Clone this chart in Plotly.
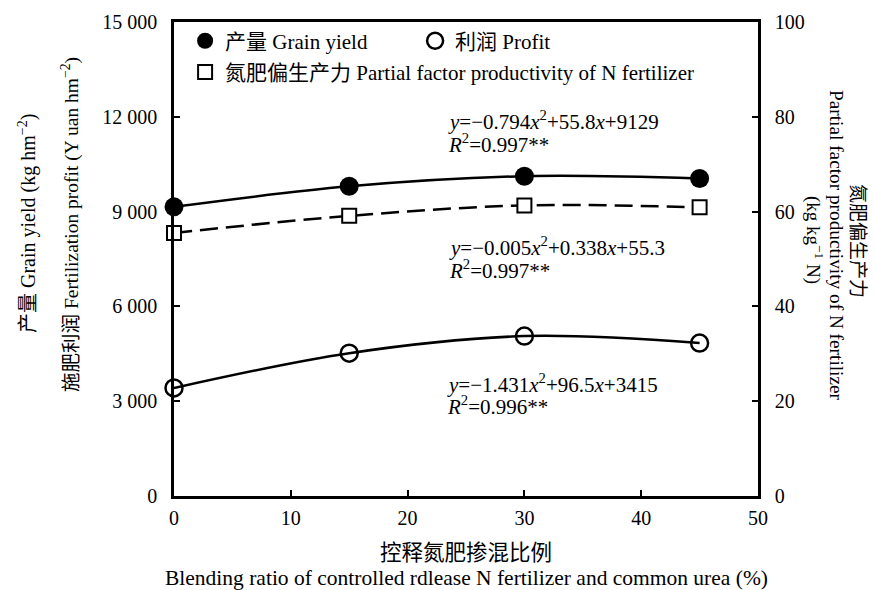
import plotly.graph_objects as go

ratio = [0, 15, 30, 45]
grain_yield = [9150, 9800, 10120, 10050]
profit = [3420, 4520, 5060, 4840]
pfp = [55.5, 59.1, 61.3, 60.9]

FONT = "Liberation Serif, Times New Roman, Noto Sans CJK SC, serif"
FS = 20

fig = go.Figure()

# lines (spline through the points)
fig.add_trace(go.Scatter(x=ratio, y=grain_yield, mode="lines", line=dict(color="black", width=2.5, shape="spline"),
                         showlegend=False, hoverinfo="skip"))
fig.add_trace(go.Scatter(x=ratio, y=profit, mode="lines", line=dict(color="black", width=2.5, shape="spline"),
                         showlegend=False, hoverinfo="skip"))
fig.add_trace(go.Scatter(x=ratio, y=pfp, mode="lines", yaxis="y2",
                         line=dict(color="black", width=2.5, shape="spline", dash="18px,8px"),
                         showlegend=False, hoverinfo="skip"))

# markers
fig.add_trace(go.Scatter(x=ratio, y=grain_yield, mode="markers", name="产量 Grain yield",
                         marker=dict(symbol="circle", size=19, color="black"),
                         cliponaxis=False, legendrank=1, legendwidth=185, legend="legend"))
fig.add_trace(go.Scatter(x=ratio, y=profit, mode="markers", name="利润 Profit",
                         marker=dict(symbol="circle-open", size=17, color="black", line=dict(width=2.5)),
                         cliponaxis=False, legendrank=2, legendwidth=185, legend="legend"))
fig.add_trace(go.Scatter(x=ratio, y=pfp, mode="markers", yaxis="y2",
                         name="氮肥偏生产力 Partial factor productivity of N fertilizer",
                         marker=dict(symbol="square", size=14, color="white", line=dict(width=2, color="black")),
                         cliponaxis=False, legend="legend2"))

axis_common = dict(showline=True, linecolor="black", linewidth=2.5, ticks="inside", ticklen=6,
                   tickwidth=1.5, tickcolor="black", showgrid=False, zeroline=False,
                   tickfont=dict(family=FONT, size=FS, color="black"))

legend_common = dict(orientation="h", x=0.019, xanchor="left", yanchor="top",
                     bgcolor="rgba(0,0,0,0)", font=dict(family=FONT, size=21, color="black"),
                     itemsizing="trace", traceorder="normal")

fig.update_layout(
    width=874, height=590,
    margin=dict(l=174, r=116, t=22, b=94),
    paper_bgcolor="white", plot_bgcolor="white",
    separators=". ",
    font=dict(family=FONT, size=FS, color="black"),
    xaxis=dict(range=[0, 50], dtick=10, mirror=True, ticklabelstandoff=2, **axis_common),
    yaxis=dict(range=[0, 15000], dtick=3000, tickformat=",d", ticklabelstandoff=10, **axis_common),
    yaxis2=dict(range=[0, 100], dtick=20, overlaying="y", side="right", ticklabelstandoff=10, **axis_common),
    legend=dict(y=1.003, **legend_common),
    legend2=dict(y=0.937, **legend_common),
)

annots = []
EQ_FS = 21
def eq(text, x, y):
    annots.append(dict(text=text, x=x, y=y, xref="x", yref="y", xanchor="left", yanchor="middle",
                       showarrow=False, font=dict(family=FONT, size=EQ_FS, color="black")))

eq("<i>y</i>=−0.794<i>x</i><sup>2</sup>+55.8<i>x</i>+9129", 23.3, 11880)
eq("<i>R</i><sup>2</sup>=0.997**", 23.3, 11170)
eq("<i>y</i>=−0.005<i>x</i><sup>2</sup>+0.338<i>x</i>+55.3", 23.4, 7890)
eq("<i>R</i><sup>2</sup>=0.997**", 23.4, 7180)
eq("<i>y</i>=−1.431<i>x</i><sup>2</sup>+96.5<i>x</i>+3415", 23.2, 3550)
eq("<i>R</i><sup>2</sup>=0.996**", 23.2, 2850)

def side(text, x, y, angle, size=FS):
    annots.append(dict(text=text, x=x, y=y, xref="paper", yref="paper", xanchor="center", yanchor="middle",
                       textangle=angle, showarrow=False, font=dict(family=FONT, size=size, color="black")))

side("产量 Grain yield (kg hm<sup>−2</sup>)", (27 - 174) / 584, (496 - 224) / 474, -90, 20)
side("施肥利润 Fertilization profit (Y uan hm<sup>−2</sup>)", (70 - 174) / 584, (496 - 225) / 474, -90, 19.5)
side("氮肥偏生产力", (858 - 174) / 584, (496 - 241) / 474, 90, 19)
side("Partial factor productivity of N fertilizer", (837 - 174) / 584, (496 - 245) / 474, 90, 19.3)
side("(kg kg<sup>−1</sup> N)", (815 - 174) / 584, (496 - 240) / 474, 90, 19)
side("控释氮肥掺混比例", 0.5, (496 - 553) / 474, 0, 21.5)
side("Blending ratio of controlled rdlease N fertilizer and common urea (%)", 0.5, (496 - 578) / 474, 0, 21.5)

fig.update_layout(annotations=annots)
fig.write_html("out.html")
